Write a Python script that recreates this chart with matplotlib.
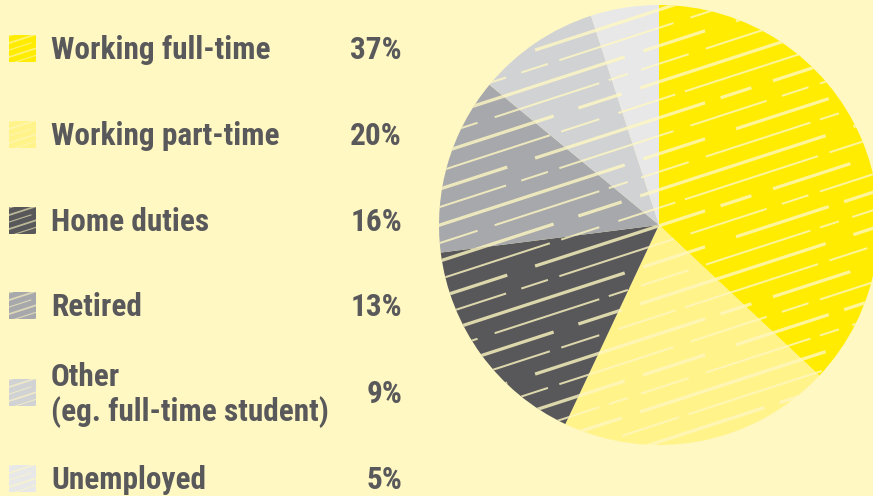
import numpy as np
import matplotlib
matplotlib.use('Agg')
import matplotlib.pyplot as plt
from matplotlib.patches import Rectangle

# Dados
categories = ['Working full-time', 'Working part-time', 'Home duties', 'Retired',
              'Other\n(eg. full-time student)', 'Unemployed']
values = [37, 20, 16, 13, 9, 5]
labels_pct = ['37%', '20%', '16%', '13%', '9%', '5%']
colors = ['#FFEC00', '#FFF38A', '#58585A', '#A7A8AB', '#D1D2D4', '#E8E8E8']

bg = '#FFF8C2'
text_color = '#59595B'
W, H = 873, 496

plt.rcParams['font.family'] = ['Roboto Condensed', 'DejaVu Sans']

fig = plt.figure(figsize=(W / 100, H / 100), dpi=100)
fig.patch.set_facecolor(bg)
ax = fig.add_axes([0, 0, 1, 1])
ax.set_facecolor(bg)

wedges, _ = ax.pie(values, colors=colors, startangle=90, counterclock=False,
                   center=(659, H - 225), radius=220,
                   wedgeprops=dict(linewidth=0))
ax.set_xlim(0, W)
ax.set_ylim(0, H)
ax.axis('off')

# textura de "rabisco": linhas inclinadas recortadas em cada fatia
def scribble(patch, x0, x1, y0, y1, step=18, lw=1.8, alpha=0.8):
    slope = np.tan(np.radians(18))
    span = (x1 - x0) * slope
    for k, b in enumerate(np.arange(y0 - span, y1, step)):
        dash = [(0, (40, 8, 14, 6, 60, 9)), (0, (25, 9, 55, 5, 10, 7)),
                (7, (70, 6, 20, 10, 30, 5))][k % 3]
        ln, = ax.plot([x0, x1], [b, b + span], color=bg, lw=lw * (1.3 if k % 2 else 0.8),
                      alpha=alpha, linestyle=dash, solid_capstyle='round')
        ln.set_clip_path(patch)

for w in wedges:
    scribble(w, 430, 880, 0, H)

# legenda à esquerda
row_y = [48, 134, 220, 305, 392, 478]
fs = 22.5
for cat, pct, col, y in zip(categories, labels_pct, colors, row_y):
    yy = H - y
    sq = Rectangle((9, yy - 13.5), 27, 27, facecolor=col, edgecolor='none')
    ax.add_patch(sq)
    scribble(sq, 5, 40, yy - 20, yy + 20, step=7, lw=1.0, alpha=0.6)
    lines = cat.split('\n')
    base = yy - 11 + 17.5 * (len(lines) - 1)
    for i, line in enumerate(lines):
        ax.text(51, base - 35 * i, line, ha='left', va='baseline', fontsize=fs,
                fontweight='bold', color=text_color)
    ax.text(402, yy - 11, pct, ha='right', va='baseline', fontsize=fs,
            fontweight='bold', color=text_color)

fig.savefig('out.png', dpi=100, facecolor=bg)
